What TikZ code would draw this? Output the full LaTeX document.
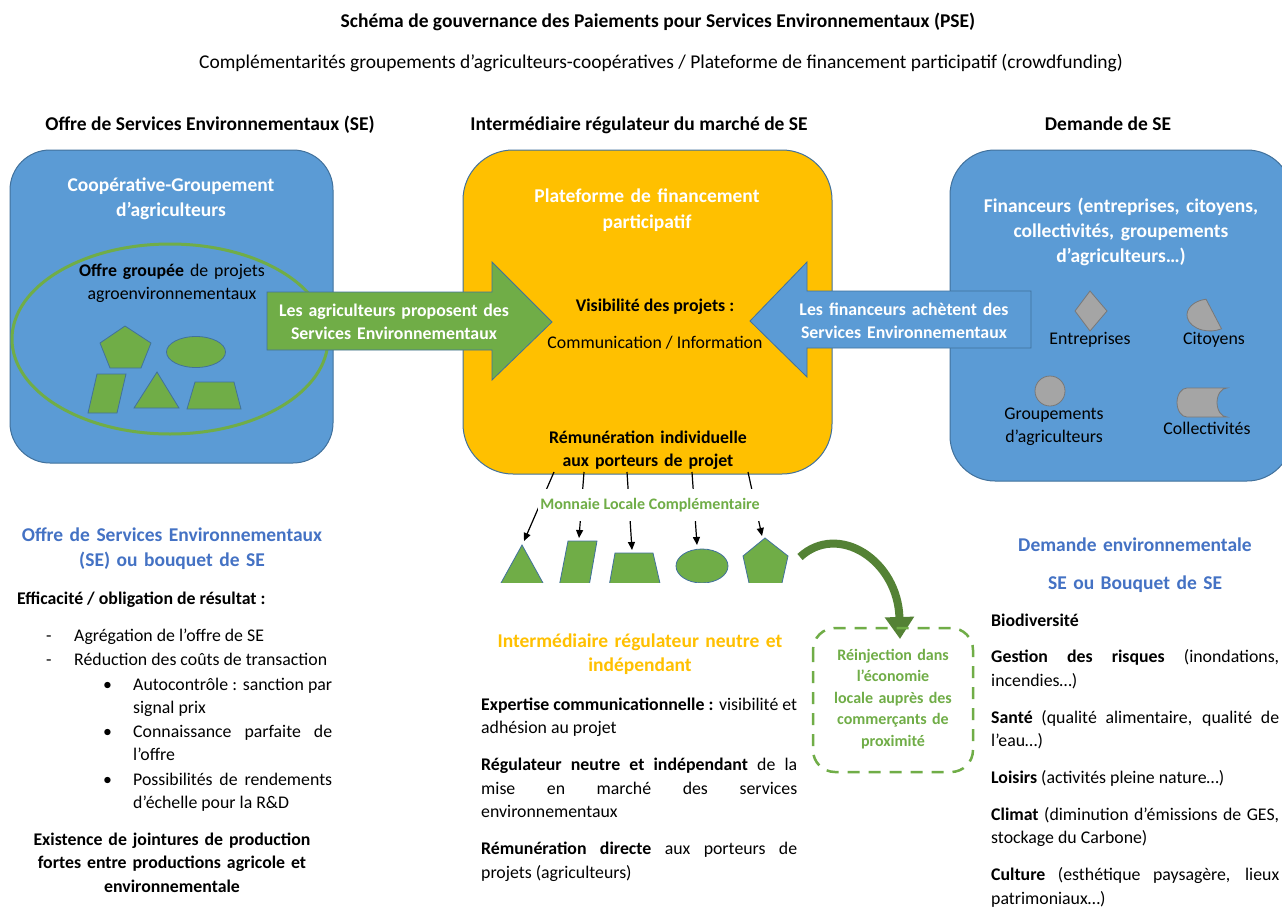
\documentclass[tikz,border=0pt]{standalone}
\usepackage{fontspec}
\setmainfont{Carlito}
\usetikzlibrary{arrows.meta}
\definecolor{seblue}{HTML}{5B9BD5}
\definecolor{seborder}{HTML}{41719C}
\definecolor{segreen}{HTML}{70AD47}
\definecolor{sedarkgreen}{HTML}{548235}
\definecolor{seorange}{HTML}{FFC000}
\definecolor{segray}{HTML}{A5A5A5}
\definecolor{segrayborder}{HTML}{787878}
\definecolor{setitle}{HTML}{4472C4}
\newcommand{\bodysize}{\fontsize{17.8}{23.5}\selectfont}
\newcommand{\headsize}{\fontsize{19.5}{25}\selectfont}
\newcommand{\smallsize}{\fontsize{16}{21.5}\selectfont}

\begin{document}
\begin{tikzpicture}[x=1pt,y=-1pt,
    txt/.style={inner sep=0pt,font=\bodysize},
    btxt/.style={inner sep=0pt,font=\bodysize\bfseries},
    htxt/.style={inner sep=0pt,font=\headsize\bfseries},
    ctr/.style={anchor=base,text width=#1,align=center},
    para/.style={txt,anchor=base west,text width=#1,align=justify},
    bigbox/.style={draw=seborder,line width=1pt},
    greenshape/.style={draw=seborder,fill=segreen,line width=0.8pt},
    greyshape/.style={draw=segrayborder,fill=segray,line width=0.8pt},
    payarrow/.style={line width=1.2pt,-{Triangle[length=8pt,width=7pt]}}]
  \useasboundingbox[fill=white] (0,0) rectangle (1282,907);

  % titres
  \node[htxt,anchor=base] (title) at (658,28)
    {Schéma de gouvernance des Paiements pour Services Environnementaux (PSE)};
  \node[txt,font=\headsize,anchor=base] (subtitle) at (661,69)
    {Complémentarités groupements d’agriculteurs-coopératives / Plateforme de financement participatif (crowdfunding)};
  \node[htxt,anchor=base] (headoffre) at (210,130) {Offre de Services Environnementaux (SE)};
  \node[htxt,anchor=base] (headinter) at (639,130) {Intermédiaire régulateur du marché de SE};
  \node[htxt,anchor=base] (headdemande) at (1108,130) {Demande de SE};

  % les trois blocs
  \draw[bigbox,fill=seblue,rounded corners=40pt] (10,150) rectangle (333,463);
  \draw[bigbox,fill=seorange,rounded corners=50pt] (463,150) rectangle (832,474);
  \draw[bigbox,fill=seblue,rounded corners=45pt] (950,150) rectangle (1292,481);

  % offre
  \node[htxt,ctr=300,text=white] (coop) at (171,191)
    {Coopérative-Groupement\\d’agriculteurs};
  \draw[segreen,line width=3pt] (170,339) ellipse [x radius=158pt,y radius=95pt];
  \node[txt,ctr=240] (offregroupee) at (172,276)
    {\textbf{Offre groupée} de projets\\agroenvironnementaux};
  \draw[greenshape] (125,326) -- (151,343) -- (141,368) -- (110,368) -- (100,343) -- cycle;
  \draw[greenshape] (196,352) ellipse [x radius=29.5pt,y radius=15.5pt];
  \draw[greenshape] (97,374) -- (126,374) -- (117,413) -- (88,413) -- cycle;
  \draw[greenshape] (157,372) -- (179,408) -- (134,408) -- cycle;
  \draw[greenshape] (195,382) -- (234,382) -- (241,409) -- (187,409) -- cycle;

  % plateforme
  \node[htxt,ctr=330,text=white,font=\fontsize{19.5}{26}\selectfont\bfseries] (plateforme) at (647,202)
    {Plateforme de financement\\participatif};
  \node[btxt,anchor=base] (visibilite) at (655,311) {Visibilité des projets :};
  \node[txt,anchor=base] (communication) at (655,348) {Communication / Information};
  \node[btxt,ctr=330] (remuneration) at (648,443)
    {Rémunération individuelle\\aux porteurs de projet};

  % demande
  \node[htxt,ctr=320,text=white] (financeurs) at (1121,212)
    {Financeurs (entreprises, citoyens,\\collectivités, groupements\\d’agriculteurs…)};
  \draw[greyshape] (1090,291) -- (1107,311) -- (1090,331) -- (1075,311) -- cycle;
  \node[txt,anchor=base] (entreprises) at (1090,344) {Entreprises};
  \draw[greyshape] (1206,299.2) arc [start angle=100,end angle=300,x radius=23pt,y radius=16pt] -- cycle;
  \node[txt,anchor=base] (citoyens) at (1214,344) {Citoyens};
  \draw[greyshape] (1050,391) circle [radius=15pt];
  \node[txt,ctr=200] (groupements) at (1054,419) {Groupements\\d’agriculteurs};
  \draw[greyshape] (1187,388) -- (1227,388)
    arc [start angle=90,end angle=270,x radius=10pt,y radius=14.5pt] -- (1187,417)
    arc [start angle=270,end angle=90,x radius=10pt,y radius=14.5pt] -- cycle;
  \node[txt,anchor=base] (collectivites) at (1207,434) {Collectivités};

  % grandes flèches
  \draw[greenshape] (267,292) -- (492,292) -- (492,262) -- (552,322) -- (492,380)
    -- (492,350) -- (267,350) -- cycle;
  \node[btxt,ctr=260,text=white] (proposent) at (394,316)
    {Les agriculteurs proposent des\\Services Environnementaux};
  \draw[bigbox,fill=seblue,line width=0.8pt] (1031,291) -- (807,291) -- (807,262) -- (750,321)
    -- (807,377) -- (807,348) -- (1031,348) -- cycle;
  \node[btxt,ctr=240,text=white] (achetent) at (904,315)
    {Les financeurs achètent des\\Services Environnementaux};

  % rémunération vers les porteurs
  \begin{scope}
    \clip (480,520) rectangle (820,582);
    \draw[greenshape] (522,545) -- (548,592) -- (496,592) -- cycle;
    \draw[greenshape] (568,541) -- (597,541) -- (588,592) -- (558,592) -- cycle;
    \draw[greenshape] (615,553) -- (653,553) -- (662,592) -- (608,592) -- cycle;
    \draw[greenshape] (702,566) ellipse [x radius=26pt,y radius=17pt];
    \draw[greenshape] (765,538) -- (788,556) -- (780,592) -- (751,592) -- (743,556) -- cycle;
  \end{scope}
  \coordinate (s1) at (554,472);
  \coordinate (s2) at (584,472);
  \coordinate (s3) at (627,472);
  \coordinate (s4) at (692,472);
  \coordinate (s5) at (748,472);
  \coordinate (p1) at (524,541);
  \coordinate (p2) at (579,538);
  \coordinate (p3) at (632,550);
  \coordinate (p4) at (697,545);
  \coordinate (p5) at (762,536);
  \foreach \i in {1,...,5}
    \draw[payarrow] (s\i) -- (p\i);
  \node[btxt,anchor=base,text=segreen,fill=white,inner ysep=9pt,inner xsep=2pt,
    font=\smallsize\bfseries] (monnaie) at (650,509) {Monnaie Locale Complémentaire};

  % réinjection
  \coordinate (cs) at (800,557);
  \coordinate (ce) at (900,639);
  \draw[sedarkgreen,line width=8pt,-{Triangle[length=22pt,width=28pt]}]
    (cs) .. controls (838,522) and (898,560) .. (ce);
  \draw[segreen,line width=2.5pt,dash pattern=on 12pt off 9pt,rounded corners=22pt]
    (813,628) rectangle (973,772);
  \node[btxt,ctr=150,text=segreen,font=\smallsize\bfseries] (reinjection) at (893,660)
    {Réinjection dans\\l’économie\\locale auprès des\\commerçants de\\proximité};

  % colonne offre
  \node[htxt,ctr=330,text=setitle] (offreSE) at (172,541)
    {Offre de Services Environnementaux\\(SE) ou bouquet de SE};
  \node[btxt,anchor=base west] (efficacite) at (17,604) {Efficacité / obligation de résultat :};
  \node[txt,anchor=base west] (dasha) at (46,641) {-};
  \node[txt,anchor=base west] (agregation) at (74,641) {Agrégation de l’offre de SE};
  \node[txt,anchor=base west] (dashb) at (46,665) {-};
  \node[txt,anchor=base west] (reduction) at (74,665) {Réduction des coûts de transaction};
  \node[txt,anchor=base west] (bula) at (103,690) {\textbullet};
  \node[para=199] (autocontrole) at (133,690) {Autocontrôle : sanction par\linebreak signal prix};
  \node[txt,anchor=base west] (bulb) at (103,737) {\textbullet};
  \node[para=199] (connaissance) at (133,737) {Connaissance parfaite de\linebreak l’offre};
  \node[txt,anchor=base west] (bulc) at (103,785) {\textbullet};
  \node[para=199] (possibilites) at (133,785) {Possibilités de rendements\linebreak d’échelle pour la R\&D};
  \node[btxt,ctr=330] (jointures) at (172,845)
    {Existence de jointures de production\\fortes entre productions agricole et\\environnementale};

  % colonne intermédiaire
  \node[htxt,ctr=330,text=seorange,font=\fontsize{19.5}{24}\selectfont\bfseries] (neutre) at (640,647)
    {Intermédiaire régulateur neutre et\\indépendant};
  \node[para=316] (expertise) at (481,710)
    {\textbf{Expertise communicationnelle :} visibilité et\linebreak adhésion au projet\\[13.5pt]
     \textbf{Régulateur neutre et indépendant} de la\linebreak mise en marché des services\linebreak
     environnementaux\\[13.5pt]
     \textbf{Rémunération directe} aux porteurs de\linebreak projets (agriculteurs)};

  % colonne demande
  \node[htxt,ctr=300,text=setitle] (demandeenv) at (1135,551) {Demande environnementale};
  \node[htxt,ctr=300,text=setitle] (bouquet) at (1135,589) {SE ou Bouquet de SE};
  \node[para=288] (services) at (991,626)
    {\textbf{Biodiversité}\\[13.3pt]
     \textbf{Gestion des risques} (inondations,\linebreak incendies…)\\[13.3pt]
     \textbf{Santé} (qualité alimentaire, qualité de\linebreak l’eau…)\\[13.3pt]
     \textbf{Loisirs} (activités pleine nature…)\\[13.3pt]
     \textbf{Climat} (diminution d’émissions de GES,\linebreak stockage du Carbone)\\[13.3pt]
     \textbf{Culture} (esthétique paysagère, lieux\linebreak patrimoniaux…)};
\end{tikzpicture}
\end{document}
